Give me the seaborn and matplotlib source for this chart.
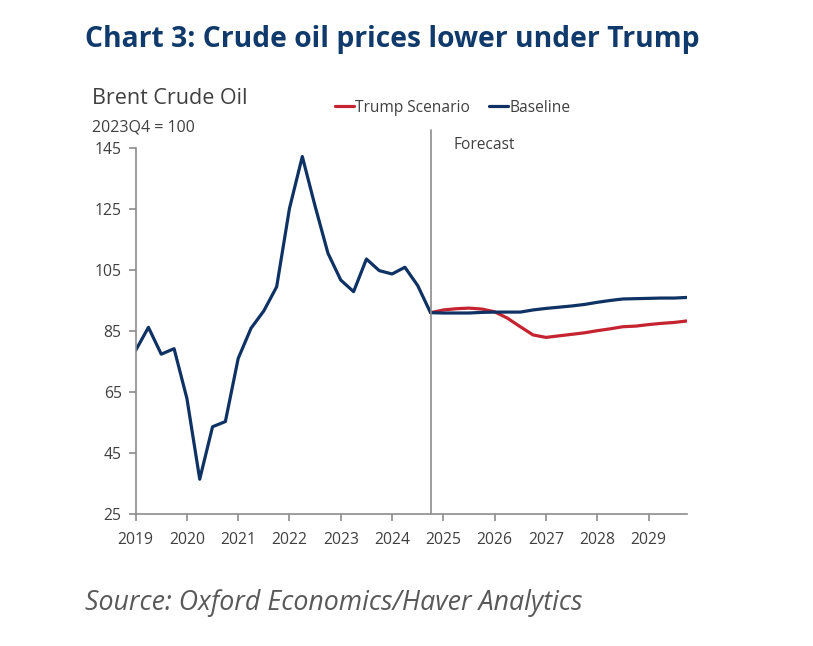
import numpy as np
import pandas as pd
import matplotlib
matplotlib.use("Agg")
import matplotlib.pyplot as plt
from matplotlib.lines import Line2D
import seaborn as sns

# quarterly index, 2023Q4 = 100
history = [78.7, 86.3, 77.5, 79.3, 63.0, 36.5, 53.7, 55.4, 76.1, 86.0, 91.7, 99.6,
           125.3, 142.3, 126.0, 110.6, 101.8, 98.0, 108.7, 104.9, 103.8, 106.0, 100.0, 91.1]
baseline_fc = [91.0, 91.0, 91.0, 91.2, 91.3, 91.3, 91.3, 92.0, 92.5, 92.9,
               93.3, 93.8, 94.5, 95.1, 95.6, 95.7, 95.8, 95.9, 95.9, 96.1]
trump = [91.1, 92.0, 92.4, 92.6, 92.3, 91.4, 89.3, 86.5, 83.8, 83.0, 83.5,
         84.0, 84.5, 85.2, 85.8, 86.5, 86.7, 87.2, 87.6, 87.9, 88.4]
years = list(range(2019, 2030))
y_ticks = [25, 45, 65, 85, 105, 125, 145]

baseline = history + baseline_fc
t_base = 2019 + np.arange(len(baseline)) / 4
t_trump = t_base[len(history) - 1:]

df = pd.concat([
    pd.DataFrame({"t": t_trump, "value": trump, "series": "Trump Scenario"}),
    pd.DataFrame({"t": t_base, "value": baseline, "series": "Baseline"}),
])

sns.set_style("white")
plt.rcParams["font.family"] = ["Open Sans", "DejaVu Sans"]

navy = "#0e3263"
red = "#c4232f"
grey_txt = "#404040"
axis_grey = "#8c8c8c"

fig = plt.figure(figsize=(8.13, 6.46), dpi=100)
ax = fig.add_axes([0.1668, 0.2039, 0.845 - 0.1668, 0.7704 - 0.2039])

sns.lineplot(data=df, x="t", y="value", hue="series",
             palette={"Trump Scenario": red, "Baseline": navy},
             hue_order=["Trump Scenario", "Baseline"],
             linewidth=2.3, ax=ax, legend=False)

ax.set_xlim(2019, 2029.75)
ax.set_ylim(25, 145)
ax.set_xticks(years)
ax.set_xticklabels([str(y) for y in years])
ax.set_yticks(y_ticks)
ax.set_xlabel("")
ax.set_ylabel("")
for s in ["top", "right"]:
    ax.spines[s].set_visible(False)
for s in ["left", "bottom"]:
    ax.spines[s].set_color(axis_grey)
    ax.spines[s].set_linewidth(1.2)
ax.tick_params(axis="both", which="both", direction="out", length=5,
               width=1.2, color=axis_grey, labelsize=11.3, labelcolor=grey_txt)
ax.tick_params(axis="y", pad=5)
ax.tick_params(axis="x", pad=8)
ax.tick_params(left=True, bottom=True)

# forecast divider
ax.axvline(2024.75, ymin=0, ymax=1.05, color=axis_grey, linewidth=1.2, clip_on=False)
ax.text(2025.2, 146.2, "Forecast", fontsize=11.2, color=grey_txt, ha="left", va="center")

# legend
handles = [Line2D([], [], color=red, linewidth=2.3), Line2D([], [], color=navy, linewidth=2.3)]
fig.legend(handles, ["Trump Scenario", "Baseline"], loc="center left",
           bbox_to_anchor=(0.395, 0.833), ncol=2, frameon=False, fontsize=11.2,
           handlelength=1.2, handletextpad=0.1, columnspacing=1.2,
           labelcolor=grey_txt)

fig.text(85 / 813, 1 - 40 / 646, "Chart 3: Crude oil prices lower under Trump",
         fontsize=20.3, fontweight="bold", color="#0f3a6b", ha="left", va="center")
fig.text(92 / 813, 1 - 98 / 646, "Brent Crude Oil", fontsize=15.5, color=grey_txt,
         ha="left", va="center")
fig.text(92 / 813, 1 - 127 / 646, "2023Q4 = 100", fontsize=11.5, color=grey_txt,
         ha="left", va="center")
fig.text(85 / 813, 1 - 603 / 646, "Source: Oxford Economics/Haver Analytics",
         fontsize=19.3, fontstyle="italic", color="#595959", ha="left", va="center")

fig.savefig("out.png", dpi=100, facecolor="white")
